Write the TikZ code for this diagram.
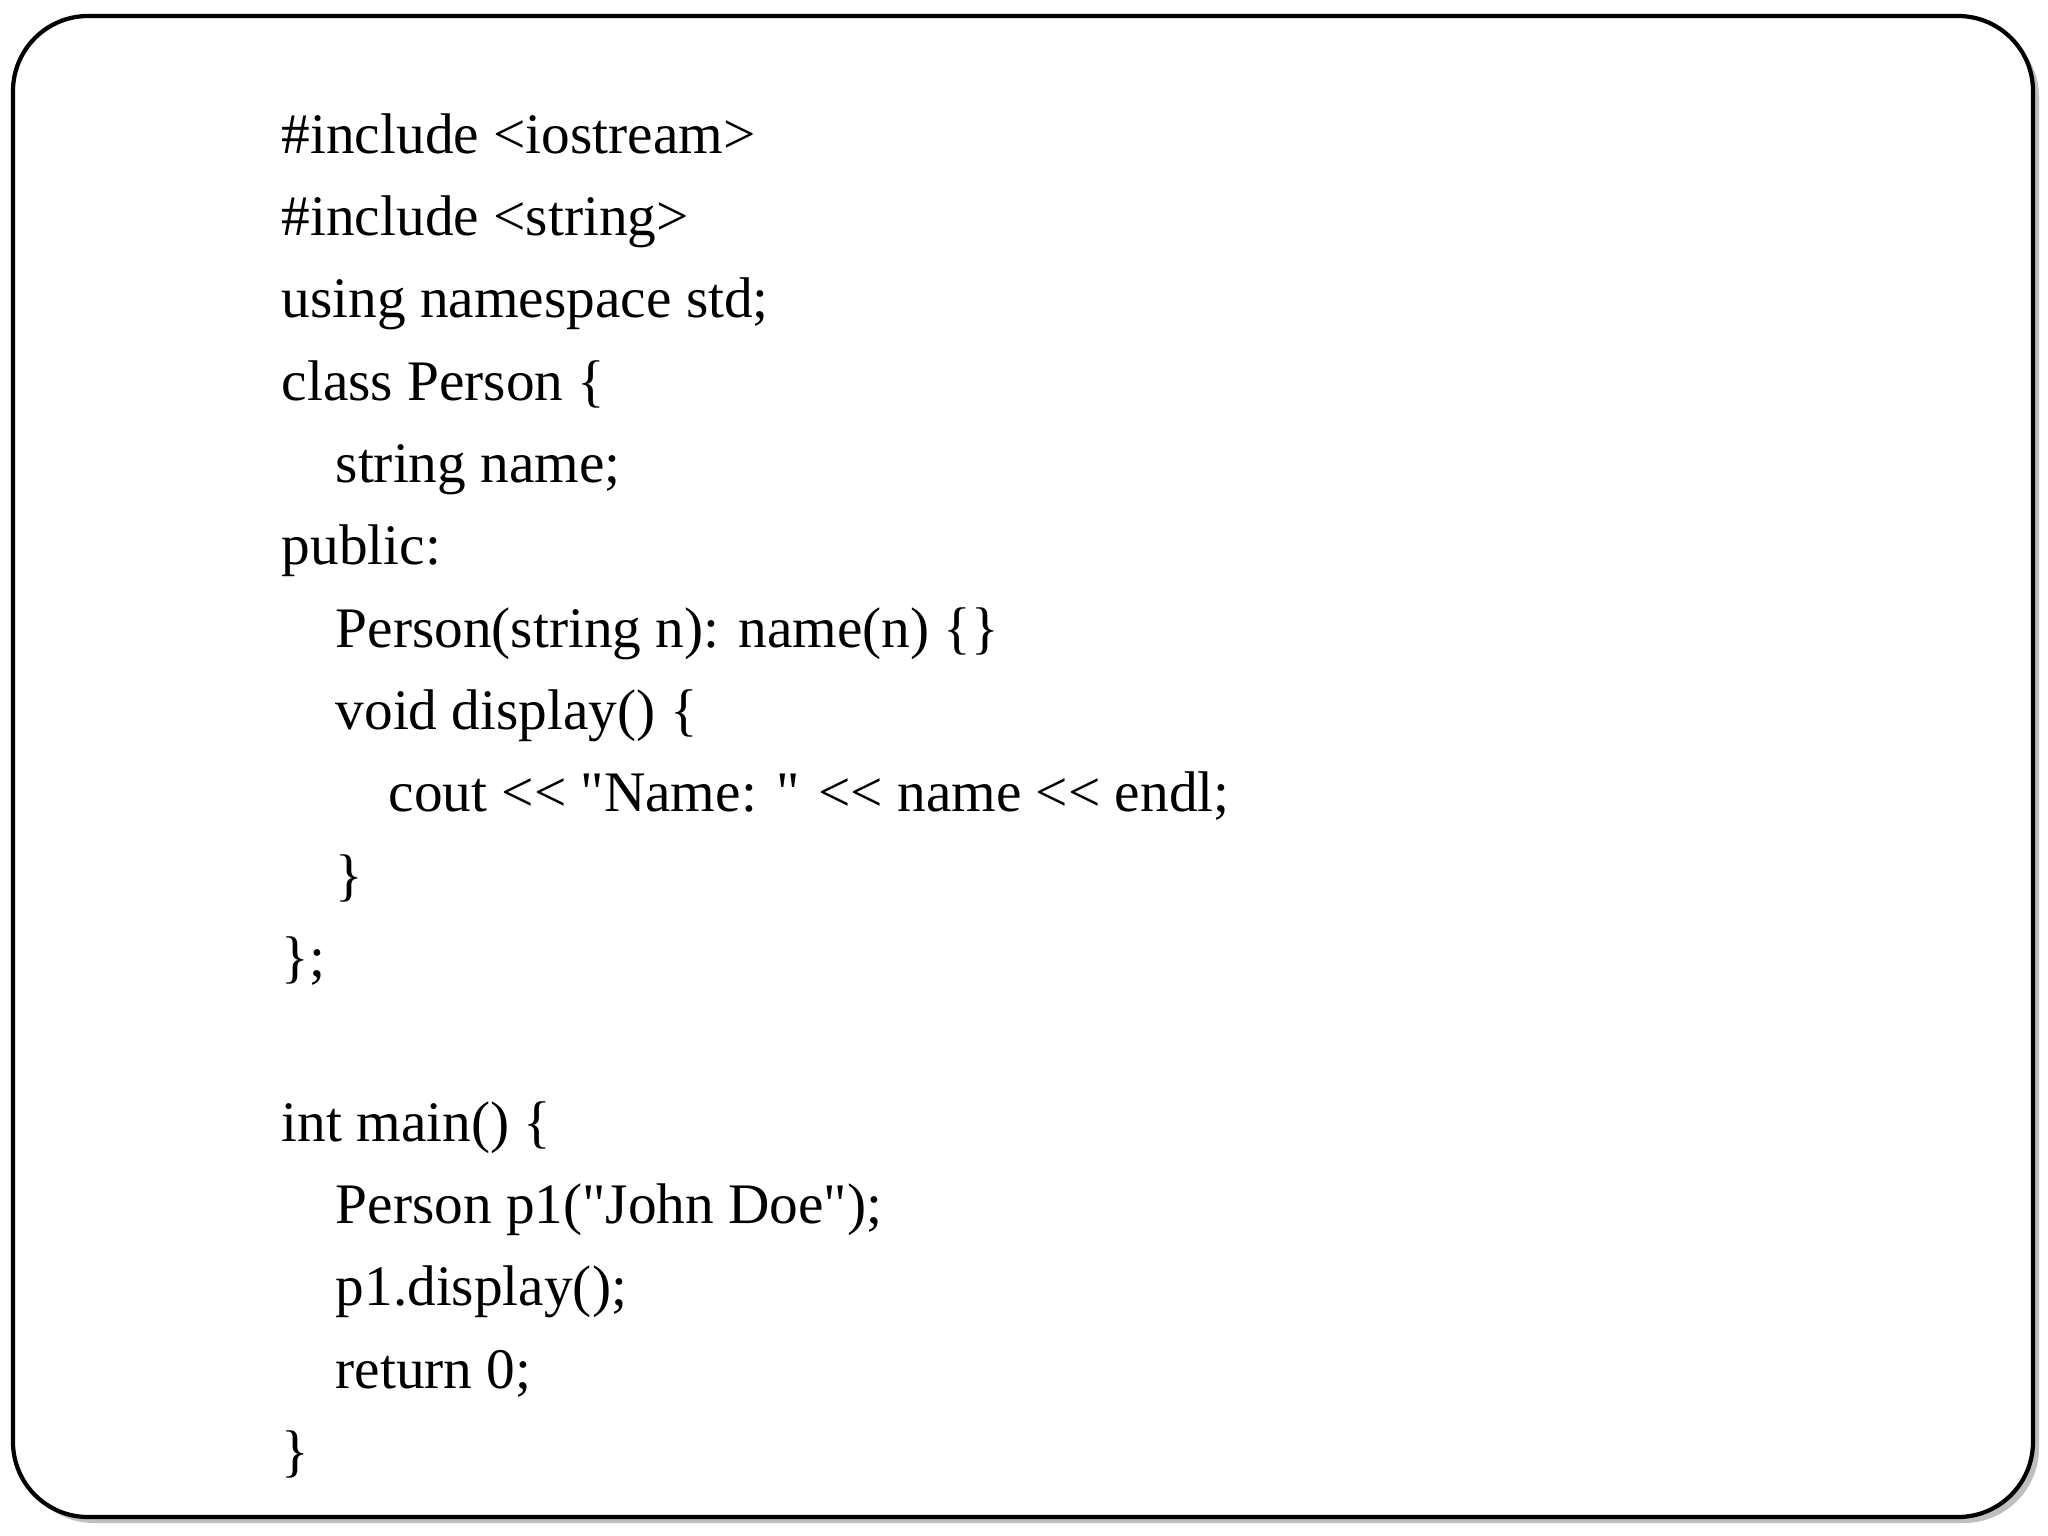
\documentclass[tikz,border=0pt]{standalone}
\usepackage{fontspec}
\setmainfont{Liberation Serif}
\newcommand{\qq}{\textquotedbl}
\begin{document}
\begin{tikzpicture}[x=0.01cm,y=-0.01cm,
  code/.style={anchor=base west,inner sep=0pt,font=\fontsize{16.3}{20}\selectfont}]
\useasboundingbox (0,0) rectangle (2048,1536);
\fill[white] (0,0) rectangle (2048,1536);
\fill[black!25,rounded corners=0.75cm] (19,22) rectangle (2039,1523);
\draw[line width=1.2pt,fill=white,rounded corners=0.75cm] (13,16) rectangle (2033,1517);
\def\xa{281}\def\xb{335}\def\xc{388}
\node[code] (l1) at (\xa,153) {\#include <iostream>};
\node[code] (l2) at (\xa,235) {\#include <string>};
\node[code] (l3) at (\xa,317) {using namespace std;};
\node[code] (l4) at (\xa,400) {class Person \{};
\node[code] (l5) at (\xb,482) {string name;};
\node[code] (l6) at (\xa,564) {public:};
\node[code] (l7) at (\xb,647) {Person(string n): name(n) \{\}};
\node[code] (l8) at (\xb,729) {void display() \{};
\node[code] (l9) at (\xc,811) {cout <{}< \qq Name: \qq{} <{}< name <{}< endl;};
\node[code] (l10) at (\xb,894) {\}};
\node[code] (l11) at (\xa,976) {\};};
\node[code] (l13) at (\xa,1141) {int main() \{};
\node[code] (l14) at (\xb,1223) {Person p1(\qq John Doe\qq);};
\node[code] (l15) at (\xb,1305) {p1.display();};
\node[code] (l16) at (\xb,1388) {return 0;};
\node[code] (l17) at (\xa,1470) {\}};
\end{tikzpicture}
\end{document}
